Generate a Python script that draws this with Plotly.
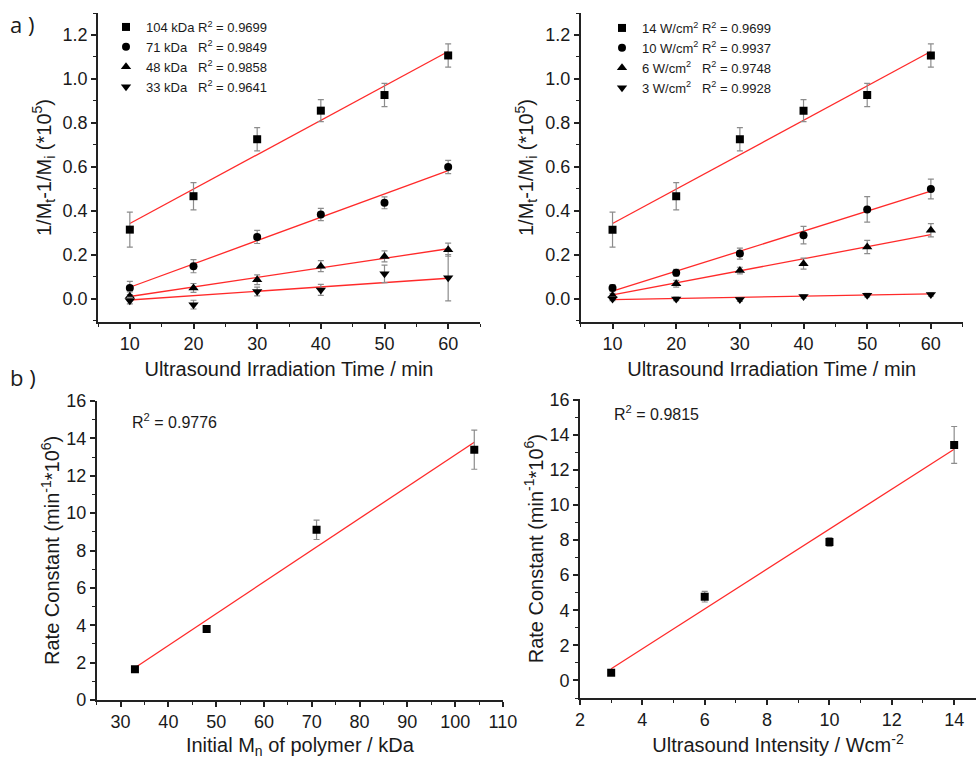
import plotly.graph_objects as go

# ---------------- data ----------------
time_min = [10, 20, 30, 40, 50, 60]

kda_names = ["104 kDa", "71 kDa", "48 kDa", "33 kDa"]
kda_r2 = ["0.9699", "0.9849", "0.9858", "0.9641"]
kda_104 = [0.315, 0.467, 0.726, 0.856, 0.927, 1.107]
kda_104_err = [0.080, 0.062, 0.053, 0.050, 0.053, 0.053]
kda_71 = [0.050, 0.149, 0.282, 0.384, 0.437, 0.600]
kda_71_err = [0.030, 0.030, 0.030, 0.028, 0.027, 0.030]
kda_48 = [0.012, 0.050, 0.087, 0.149, 0.193, 0.224]
kda_48_err = [0.020, 0.020, 0.022, 0.025, 0.025, 0.030]
kda_33 = [-0.008, -0.026, 0.034, 0.041, 0.114, 0.096]
kda_33_err = [0.015, 0.020, 0.020, 0.025, 0.040, 0.105]
kda_fit = [[0.343, 1.125], [0.053, 0.583], [0.011, 0.228], [-0.005, 0.094]]

int_names = ["14 W/cm<sup>2</sup>", "10 W/cm<sup>2</sup>", "6 W/cm<sup>2</sup>", "3 W/cm<sup>2</sup>"]
int_r2 = ["0.9699", "0.9937", "0.9748", "0.9928"]
w_14 = [0.315, 0.467, 0.726, 0.856, 0.927, 1.107]
w_14_err = [0.080, 0.062, 0.053, 0.050, 0.053, 0.053]
w_10 = [0.050, 0.119, 0.206, 0.290, 0.407, 0.500]
w_10_err = [0.015, 0.015, 0.025, 0.040, 0.058, 0.045]
w_6 = [0.015, 0.069, 0.129, 0.160, 0.236, 0.312]
w_6_err = [0.010, 0.015, 0.015, 0.025, 0.030, 0.030]
w_3 = [0.000, 0.000, -0.003, 0.011, 0.017, 0.020]
w_3_err = [0.008, 0.008, 0.008, 0.008, 0.008, 0.008]
int_fit = [[0.343, 1.125], [0.035, 0.490], [0.018, 0.292], [-0.003, 0.023]]

mn_kda = [33, 48, 71, 104]
k_mn = [1.64, 3.80, 9.11, 13.40]
k_mn_err = [0.15, 0.15, 0.52, 1.05]
k_mn_fit = [1.73, 13.80]
r2_mn = "0.9776"

intensity = [3, 6, 10, 14]
k_int = [0.44, 4.77, 7.89, 13.42]
k_int_err = [0.10, 0.30, 0.25, 1.05]
k_int_fit = [0.67, 13.17]
r2_int = "0.9815"

symbols = ["square", "circle", "triangle-up", "triangle-down"]
sizes = [8, 8, 9, 9]

# ---------------- figure ----------------
W, H = 977, 759
FONT = "Arial, Liberation Sans, sans-serif"
AX = "#222222"
ERR = "#8c8c8c"
RED = "#ff2a2a"
TXT = "#1a1a1a"

def px_x(p):
    return p / W

def px_y(p):
    return 1 - p / H

fig = go.Figure()

panels = [
    ("x", "y", kda_names, kda_r2,
     [(kda_104, kda_104_err), (kda_71, kda_71_err), (kda_48, kda_48_err), (kda_33, kda_33_err)],
     kda_fit, "legend", ["\u00a0", "\u00a0\u00a0\u00a0", "\u00a0\u00a0\u00a0", "\u00a0\u00a0\u00a0"]),
    ("x2", "y2", int_names, int_r2,
     [(w_14, w_14_err), (w_10, w_10_err), (w_6, w_6_err), (w_3, w_3_err)],
     int_fit, "legend2", ["\u00a0", "\u00a0", "\u00a0\u00a0\u00a0", "\u00a0\u00a0\u00a0"]),
]

for xa, ya, names, r2s, series, fits, leg, pads in panels:
    for i, (vals, errs) in enumerate(series):
        fig.add_trace(go.Scatter(
            x=[time_min[0], time_min[-1]], y=fits[i], mode="lines",
            line=dict(color=RED, width=1.3), showlegend=False,
            xaxis=xa, yaxis=ya, hoverinfo="skip"))
    for i, (vals, errs) in enumerate(series):
        fig.add_trace(go.Scatter(
            x=time_min, y=vals, mode="markers",
            marker=dict(symbol=symbols[i], size=sizes[i], color="black"),
            error_y=dict(type="data", array=errs, visible=True, color=ERR,
                         thickness=1.2, width=3),
            name=names[i] + pads[i] + "R<sup>2</sup> = " + r2s[i],
            legend=leg, xaxis=xa, yaxis=ya))

# bottom-left
fig.add_trace(go.Scatter(x=[mn_kda[0], mn_kda[-1]], y=k_mn_fit, mode="lines",
                         line=dict(color=RED, width=1.3), showlegend=False,
                         xaxis="x3", yaxis="y3"))
fig.add_trace(go.Scatter(x=mn_kda, y=k_mn, mode="markers",
                         marker=dict(symbol="square", size=8, color="black"),
                         error_y=dict(type="data", array=k_mn_err, visible=True,
                                      color=ERR, thickness=1.2, width=3),
                         showlegend=False, xaxis="x3", yaxis="y3"))
# bottom-right
fig.add_trace(go.Scatter(x=[intensity[0], intensity[-1]], y=k_int_fit, mode="lines",
                         line=dict(color=RED, width=1.3), showlegend=False,
                         xaxis="x4", yaxis="y4"))
fig.add_trace(go.Scatter(x=intensity, y=k_int, mode="markers",
                         marker=dict(symbol="square", size=8, color="black"),
                         error_y=dict(type="data", array=k_int_err, visible=True,
                                      color=ERR, thickness=1.2, width=3),
                         showlegend=False, xaxis="x4", yaxis="y4"))

def axis(domain, rng, dtick, minor, tick0, anchor, title=None, standoff=None, fmt=None):
    d = dict(domain=domain, range=rng, dtick=dtick, tick0=tick0, anchor=anchor,
             showline=True, linecolor=AX, linewidth=1.6, mirror=False,
             ticks="outside", ticklen=5, tickwidth=1.5, tickcolor=AX,
             minor=dict(ticks="outside", ticklen=3, tickwidth=1.2, dtick=minor,
                        tickcolor=AX, showgrid=False),
             showgrid=False, zeroline=False, automargin=False,
             tickfont=dict(family=FONT, size=18, color=TXT))
    if fmt:
        d["tickformat"] = fmt
    if title is not None:
        d["title"] = dict(text=title, font=dict(family=FONT, size=20, color=TXT),
                          standoff=standoff)
    return d

top_y = [px_y(322), px_y(13)]
bl_y = [px_y(700), px_y(400.7)]
br_y = [px_y(698), px_y(399.3)]

ytitle_top = "1/M<sub>t</sub>-1/M<sub>i</sub> (*10<sup>5</sup>)"
ytitle_bot = "Rate Constant (min<sup>-1</sup>*10<sup>6</sup>)"

fig.update_layout(
    width=W, height=H, margin=dict(l=0, r=0, t=0, b=0),
    paper_bgcolor="white", plot_bgcolor="white",
    font=dict(family=FONT, color=TXT),
    xaxis=axis([px_x(98), px_x(480)], [5, 65], 10, 5, 10, "y",
               "Ultrasound Irradiation Time / min", 9),
    yaxis=axis(top_y, [-0.105, 1.3], 0.2, 0.1, 0, "x", ytitle_top, 6, ".1f"),
    xaxis2=axis([px_x(580.7), px_x(962.7)], [5, 65], 10, 5, 10, "y2",
                "Ultrasound Irradiation Time / min", 9),
    yaxis2=axis(top_y, [-0.105, 1.3], 0.2, 0.1, 0, "x2", ytitle_top, 6, ".1f"),
    xaxis3=axis([px_x(96.7), px_x(503)], [25, 110.01], 10, 5, 30, "y3",
                "Initial M<sub>n</sub> of polymer / kDa", 9),
    yaxis3=axis(bl_y, [0, 16.02], 2, 1, 0, "x3", ytitle_bot, 1),
    xaxis4=axis([px_x(580), px_x(976)], [2, 14.7], 2, 1, 2, "y4",
                "Ultrasound Intensity / Wcm<sup>-2</sup>", 9),
    yaxis4=axis(br_y, [-1, 16.02], 2, 1, 0, "x4", ytitle_bot, 1),
    legend=dict(x=px_x(106), y=px_y(12), xanchor="left", yanchor="top",
                bgcolor="rgba(0,0,0,0)", borderwidth=0, tracegroupgap=0,
                font=dict(family=FONT, size=13, color=TXT)),
    legend2=dict(x=px_x(602), y=px_y(13), xanchor="left", yanchor="top",
                 bgcolor="rgba(0,0,0,0)", borderwidth=0, tracegroupgap=0,
                 font=dict(family=FONT, size=13, color=TXT)),
    showlegend=True,
)

annos = [
    dict(text="a )", x=px_x(8), y=px_y(24), xanchor="left", yanchor="middle",
         font=dict(family="Open Sans, sans-serif", size=22, color=TXT)),
    dict(text="b )", x=px_x(8), y=px_y(377), xanchor="left", yanchor="middle",
         font=dict(family="Open Sans, sans-serif", size=22, color=TXT)),
    dict(text="R<sup>2</sup> = " + r2_mn, x=px_x(130), y=px_y(421), xanchor="left",
         yanchor="middle", font=dict(family=FONT, size=16, color=TXT)),
    dict(text="R<sup>2</sup> = " + r2_int, x=px_x(611.7), y=px_y(413), xanchor="left",
         yanchor="middle", font=dict(family=FONT, size=16, color=TXT)),
]
for a in annos:
    a.update(xref="paper", yref="paper", showarrow=False)
fig.update_layout(annotations=annos)

fig.write_html("out.html")
